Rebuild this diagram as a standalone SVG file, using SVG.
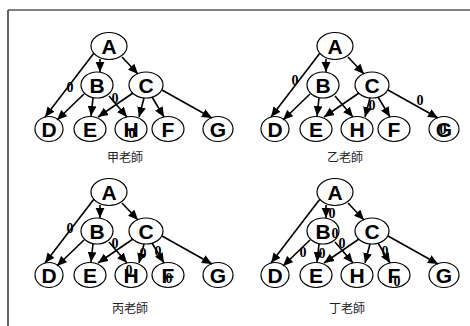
<svg xmlns="http://www.w3.org/2000/svg" width="470" height="326" viewBox="0 0 470 326">
<style>
.n ellipse{fill:#fff;stroke:#000;stroke-width:1.2}
.n text{font-family:"Liberation Sans",Arial,sans-serif;font-weight:bold;font-size:21px;text-anchor:middle;fill:#000}
.z{font-family:"Liberation Serif","Times New Roman",serif;font-weight:bold;font-size:14px;text-anchor:middle;fill:#000}
.cap{font-family:"Noto Sans CJK TC","Noto Sans CJK SC",sans-serif;font-size:12px;text-anchor:middle;fill:#222}
</style>
<defs>
<marker id="ah" markerUnits="userSpaceOnUse" markerWidth="10" markerHeight="10" viewBox="0 0 10 10" refX="10" refY="5" orient="auto">
<path d="M0,0.6 L10,5 L0,9.4 Z" fill="#000"/>
</marker>
<g id="edges" stroke="#000" stroke-width="1.6" marker-end="url(#ah)">
<line x1="100" y1="59" x2="100" y2="72"/>
<line x1="122" y1="57" x2="138" y2="74"/>
<line x1="94" y1="53" x2="45" y2="117"/>
<line x1="84" y1="94" x2="57" y2="120"/>
<line x1="93" y1="98" x2="91" y2="116"/>
<line x1="109" y1="96" x2="127" y2="117"/>
<line x1="133" y1="93" x2="98" y2="117"/>
<line x1="144" y1="98" x2="139" y2="117"/>
<line x1="152" y1="97" x2="164" y2="117"/>
<line x1="162" y1="90" x2="212" y2="118"/>
</g>
</defs>
<line x1="8" y1="10" x2="470" y2="10" stroke="#808080" stroke-width="2"/>
<line x1="8" y1="10" x2="8" y2="326" stroke="#333" stroke-width="1.5"/>

<!-- Panel 1 -->
<g id="p1">
<g id="p1-A" class="n"><ellipse cx="109" cy="46" rx="18" ry="13.5"/><text x="109" y="53.5">A</text></g>
<g id="p1-B" class="n"><ellipse cx="97" cy="85" rx="16" ry="13"/><text x="97" y="92.5">B</text></g>
<g id="p1-C" class="n"><ellipse cx="146" cy="85" rx="17" ry="13"/><text x="146" y="92.5">C</text></g>
<g id="p1-D" class="n"><ellipse cx="49" cy="129" rx="14" ry="12.5"/><text x="49" y="136.5">D</text></g>
<g id="p1-E" class="n"><ellipse cx="90" cy="129" rx="16" ry="12.5"/><text x="90" y="136.5">E</text></g>
<g id="p1-H" class="n"><ellipse cx="131" cy="129" rx="16" ry="12.5"/><text x="131" y="136.5">H</text></g>
<g id="p1-F" class="n"><ellipse cx="168" cy="129" rx="16" ry="12.5"/><text x="168" y="136.5">F</text></g>
<g id="p1-G" class="n"><ellipse cx="218" cy="129" rx="15" ry="12.5"/><text x="218" y="136.5">G</text></g>
<g id="p1-edges"><use href="#edges"/></g>
<g id="p1-labels">
<text class="z" x="70" y="92">0</text>
<text class="z" x="115" y="103">0</text>
<text class="z" x="132" y="138">0</text>
</g>
<text class="cap" x="125" y="162">甲老師</text>
</g>

<!-- Panel 2 -->
<g id="p2" transform="translate(226,0)">
<g id="p2-A" class="n"><ellipse cx="109" cy="46" rx="18" ry="13.5"/><text x="109" y="53.5">A</text></g>
<g id="p2-B" class="n"><ellipse cx="97" cy="85" rx="16" ry="13"/><text x="97" y="92.5">B</text></g>
<g id="p2-C" class="n"><ellipse cx="146" cy="85" rx="17" ry="13"/><text x="146" y="92.5">C</text></g>
<g id="p2-D" class="n"><ellipse cx="49" cy="129" rx="14" ry="12.5"/><text x="49" y="136.5">D</text></g>
<g id="p2-E" class="n"><ellipse cx="90" cy="129" rx="16" ry="12.5"/><text x="90" y="136.5">E</text></g>
<g id="p2-H" class="n"><ellipse cx="131" cy="129" rx="16" ry="12.5"/><text x="131" y="136.5">H</text></g>
<g id="p2-F" class="n"><ellipse cx="168" cy="129" rx="16" ry="12.5"/><text x="168" y="136.5">F</text></g>
<g id="p2-G" class="n"><ellipse cx="218" cy="129" rx="15" ry="12.5"/><text x="218" y="136.5">G</text></g>
<g id="p2-edges"><use href="#edges"/></g>
<g id="p2-labels">
<text class="z" x="69" y="85">0</text>
<text class="z" x="146" y="110">0</text>
<text class="z" x="194" y="105">0</text>
<text class="z" x="217" y="134">0</text>
</g>
<text class="cap" x="119" y="162">乙老師</text>
</g>

<!-- Panel 3 -->
<g id="p3" transform="translate(0,146)">
<g id="p3-A" class="n"><ellipse cx="109" cy="46" rx="18" ry="13.5"/><text x="109" y="53.5">A</text></g>
<g id="p3-B" class="n"><ellipse cx="97" cy="85" rx="16" ry="13"/><text x="97" y="92.5">B</text></g>
<g id="p3-C" class="n"><ellipse cx="146" cy="85" rx="17" ry="13"/><text x="146" y="92.5">C</text></g>
<g id="p3-D" class="n"><ellipse cx="49" cy="129" rx="14" ry="12.5"/><text x="49" y="136.5">D</text></g>
<g id="p3-E" class="n"><ellipse cx="90" cy="129" rx="16" ry="12.5"/><text x="90" y="136.5">E</text></g>
<g id="p3-H" class="n"><ellipse cx="131" cy="129" rx="16" ry="12.5"/><text x="131" y="136.5">H</text></g>
<g id="p3-F" class="n"><ellipse cx="168" cy="129" rx="16" ry="12.5"/><text x="168" y="136.5">F</text></g>
<g id="p3-G" class="n"><ellipse cx="218" cy="129" rx="15" ry="12.5"/><text x="218" y="136.5">G</text></g>
<g id="p3-edges"><use href="#edges"/></g>
<g id="p3-labels">
<text class="z" x="70" y="87">0</text>
<text class="z" x="115" y="102">0</text>
<text class="z" x="129" y="129">0</text>
<text class="z" x="143" y="112">0</text>
<text class="z" x="158" y="110">0</text>
<text class="z" x="169" y="137">0</text>
</g>
<text class="cap" x="130" y="167">丙老師</text>
</g>

<!-- Panel 4 -->
<g id="p4" transform="translate(226,146)">
<g id="p4-A" class="n"><ellipse cx="109" cy="46" rx="18" ry="13.5"/><text x="109" y="53.5">A</text></g>
<g id="p4-B" class="n"><ellipse cx="97" cy="85" rx="16" ry="13"/><text x="97" y="92.5">B</text></g>
<g id="p4-C" class="n"><ellipse cx="146" cy="85" rx="17" ry="13"/><text x="146" y="92.5">C</text></g>
<g id="p4-D" class="n"><ellipse cx="49" cy="129" rx="14" ry="12.5"/><text x="49" y="136.5">D</text></g>
<g id="p4-E" class="n"><ellipse cx="90" cy="129" rx="16" ry="12.5"/><text x="90" y="136.5">E</text></g>
<g id="p4-H" class="n"><ellipse cx="131" cy="129" rx="16" ry="12.5"/><text x="131" y="136.5">H</text></g>
<g id="p4-F" class="n"><ellipse cx="168" cy="129" rx="16" ry="12.5"/><text x="168" y="136.5">F</text></g>
<g id="p4-G" class="n"><ellipse cx="218" cy="129" rx="15" ry="12.5"/><text x="218" y="136.5">G</text></g>
<g id="p4-edges"><use href="#edges"/></g>
<g id="p4-labels">
<text class="z" x="106" y="72">0</text>
<text class="z" x="109" y="92">0</text>
<text class="z" x="116" y="102">0</text>
<text class="z" x="77" y="111">0</text>
<text class="z" x="96" y="112">0</text>
<text class="z" x="159" y="110">0</text>
<text class="z" x="171" y="140">0</text>
</g>
<text class="cap" x="121" y="167">丁老師</text>
</g>
</svg>
